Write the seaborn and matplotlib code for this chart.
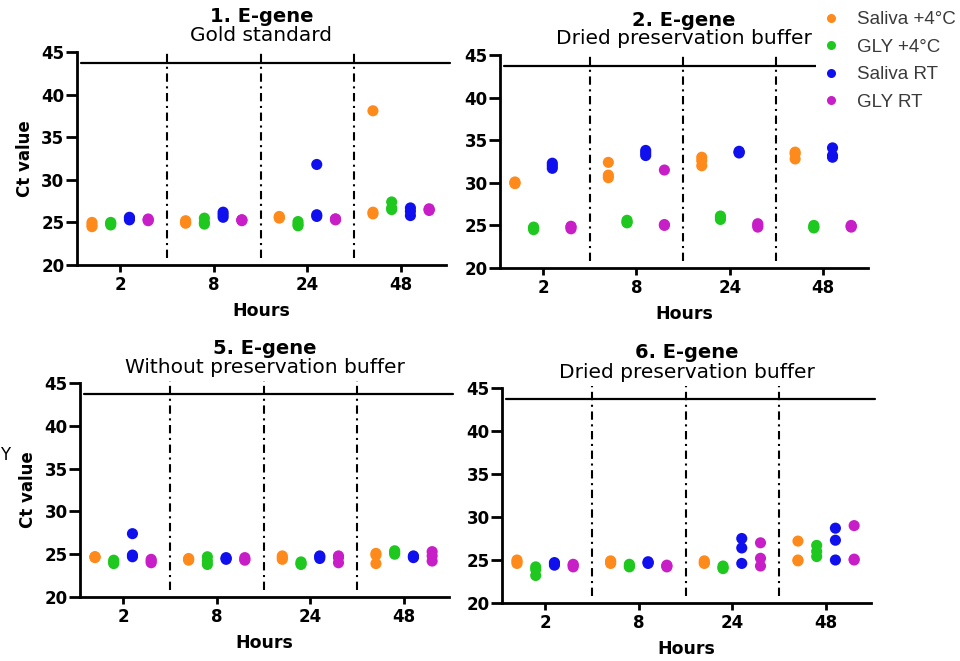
import numpy as np
import pandas as pd
import matplotlib
matplotlib.use("Agg")
import matplotlib.pyplot as plt
import seaborn as sns

hours = ["2", "8", "24", "48"]
conditions = ["Saliva +4°C", "GLY +4°C", "Saliva RT", "GLY RT"]
colors = ["#FF8A1C", "#1EC81E", "#1010EE", "#C81EC8"]

# Ct values, 3 replicates per time point (2h, 8h, 24h, 48h)
# panel 1 - gold standard
p1_saliva_4 = [24.5, 24.7, 25.0, 24.9, 25.0, 25.2, 25.5, 25.6, 25.7, 26.0, 26.2, 38.1]
p1_gly_4 = [24.7, 24.9, 25.0, 24.8, 25.0, 25.5, 24.6, 24.8, 25.1, 26.5, 26.7, 27.4]
p1_saliva_rt = [25.3, 25.5, 25.6, 25.6, 25.9, 26.2, 25.7, 25.9, 31.8, 25.8, 26.3, 26.7]
p1_gly_rt = [25.2, 25.3, 25.4, 25.2, 25.3, 25.3, 25.3, 25.4, 25.4, 26.4, 26.5, 26.6]

# panel 2 - dried preservation buffer
p2_saliva_4 = [29.9, 30.0, 30.1, 30.6, 30.9, 32.4, 32.0, 32.6, 33.0, 32.8, 33.4, 33.6]
p2_gly_4 = [24.5, 24.7, 24.8, 25.3, 25.4, 25.6, 25.7, 25.9, 26.1, 24.7, 24.8, 25.0]
p2_saliva_rt = [31.7, 32.0, 32.3, 33.2, 33.5, 33.8, 33.5, 33.6, 33.7, 33.0, 33.2, 34.1]
p2_gly_rt = [24.6, 24.8, 24.9, 25.0, 25.1, 31.5, 24.8, 25.0, 25.2, 24.8, 24.9, 25.0]

# panel 5 - without preservation buffer
p5_saliva_4 = [24.6, 24.7, 24.7, 24.3, 24.4, 24.5, 24.4, 24.6, 24.8, 23.9, 24.9, 25.1]
p5_gly_4 = [23.9, 24.1, 24.3, 23.8, 24.2, 24.7, 23.8, 23.9, 24.1, 25.0, 25.2, 25.4]
p5_saliva_rt = [24.7, 24.9, 27.4, 24.4, 24.5, 24.6, 24.5, 24.7, 24.8, 24.6, 24.7, 24.8]
p5_gly_rt = [24.0, 24.2, 24.4, 24.3, 24.4, 24.6, 24.0, 24.6, 24.8, 24.2, 24.8, 25.3]

# panel 6 - dried preservation buffer
p6_saliva_4 = [24.6, 24.8, 25.0, 24.6, 24.8, 24.9, 24.6, 24.7, 24.9, 24.9, 25.0, 27.2]
p6_gly_4 = [23.2, 23.9, 24.2, 24.2, 24.3, 24.5, 24.0, 24.1, 24.3, 25.4, 26.0, 26.7]
p6_saliva_rt = [24.4, 24.6, 24.7, 24.6, 24.7, 24.8, 24.6, 26.4, 27.5, 25.0, 27.3, 28.7]
p6_gly_rt = [24.2, 24.4, 24.5, 24.2, 24.3, 24.4, 24.3, 25.2, 27.0, 25.0, 25.1, 29.0]

titles = ["1. E-gene", "2. E-gene", "5. E-gene", "6. E-gene"]
subtitles = ["Gold standard", "Dried preservation buffer",
             "Without preservation buffer", "Dried preservation buffer"]
cutoff = 43.7

panels = [
    [p1_saliva_4, p1_gly_4, p1_saliva_rt, p1_gly_rt],
    [p2_saliva_4, p2_gly_4, p2_saliva_rt, p2_gly_rt],
    [p5_saliva_4, p5_gly_4, p5_saliva_rt, p5_gly_rt],
    [p6_saliva_4, p6_gly_4, p6_saliva_rt, p6_gly_rt],
]


def to_frame(series):
    rows = []
    for cond, vals in zip(conditions, series):
        for i, v in enumerate(vals):
            rows.append({"Hours": hours[i // 3], "Condition": cond, "Ct": v})
    return pd.DataFrame(rows)


sns.set_theme(style="white")
plt.rcParams["font.family"] = ["DejaVu Sans"]
plt.rcParams["text.color"] = "black"

fig = plt.figure(figsize=(9.6, 6.61), dpi=100)
W, H = 960, 661
# axes boxes in pixels: left, top(y=45), right, bottom(y=20)
boxes = [(77, 52, 446, 265), (500, 55, 868, 268),
         (80, 383, 449, 597), (502, 388, 871, 603)]

axes = []
for k, (l, t, r, b) in enumerate(boxes):
    ax = fig.add_axes([l / W, 1 - b / H, (r - l) / W, (b - t) / H])
    axes.append(ax)
    df = to_frame(panels[k])
    sns.stripplot(data=df, x="Hours", y="Ct", hue="Condition", order=hours,
                  hue_order=conditions, palette=colors, dodge=True, jitter=False,
                  size=8, linewidth=0, ax=ax, legend=(k == 0), zorder=3)
    ax.set_xlim(-0.46, 3.48)
    ax.set_ylim(20, 45)
    ax.set_yticks([20, 25, 30, 35, 40, 45])
    for s in ["top", "right"]:
        ax.spines[s].set_visible(False)
    for s in ["left", "bottom"]:
        ax.spines[s].set_linewidth(2)
        ax.spines[s].set_color("black")
    ax.tick_params(axis="y", length=8, width=2, pad=1, labelsize=12, colors="black")
    ax.tick_params(axis="x", length=5, width=2, pad=3, labelsize=12, colors="black")
    ax.tick_params(left=True, bottom=True)
    for lab in ax.get_xticklabels() + ax.get_yticklabels():
        lab.set_fontweight("bold")
    ax.set_xlabel("Hours", fontsize=12.5, fontweight="bold", labelpad=6,
                  color="black")
    if k in (0, 2):
        ax.set_ylabel("Ct value", fontsize=12, fontweight="bold", labelpad=5,
                      color="black")
    else:
        ax.set_ylabel("")
    ax.axhline(cutoff, xmin=0.01, xmax=1.012, color="black", lw=1.6, clip_on=False)
    ax.vlines([0.5, 1.5, 2.5], 20.8, 45.2, colors="black", lw=1.5,
              linestyles=[(0, (4, 2.2, 1, 2.2))], clip_on=False)
    ax.annotate(titles[k], xy=(0.5, 1), xycoords="axes fraction",
                xytext=(0, 35), textcoords="offset pixels", ha="center",
                va="center", fontsize=14, fontweight="bold", color="black")
    ax.annotate(subtitles[k], xy=(0.5, 1), xycoords="axes fraction",
                xytext=(0, 16), textcoords="offset pixels", ha="center",
                va="center", fontsize=14.5, color="black")

handles, labels = axes[0].get_legend_handles_labels()
axes[0].get_legend().remove()
for h in handles:
    h.set_markersize(6.5)
leg = fig.legend(handles, labels, loc="upper left", bbox_to_anchor=(807 / W, 1.0),
                 frameon=True, facecolor="white", edgecolor="none", fancybox=False,
                 framealpha=1, borderpad=0.1, labelspacing=0.55, handlelength=1.4,
                 handletextpad=0.65, prop={"family": "Liberation Sans", "size": 13.5})
for t in leg.get_texts():
    t.set_color("#3a3a3a")

# label fragment at the left edge
fig.text(0, 1 - 455 / H, "Y", ha="left", va="center", fontsize=12)

fig.savefig("out.png", dpi=100)
